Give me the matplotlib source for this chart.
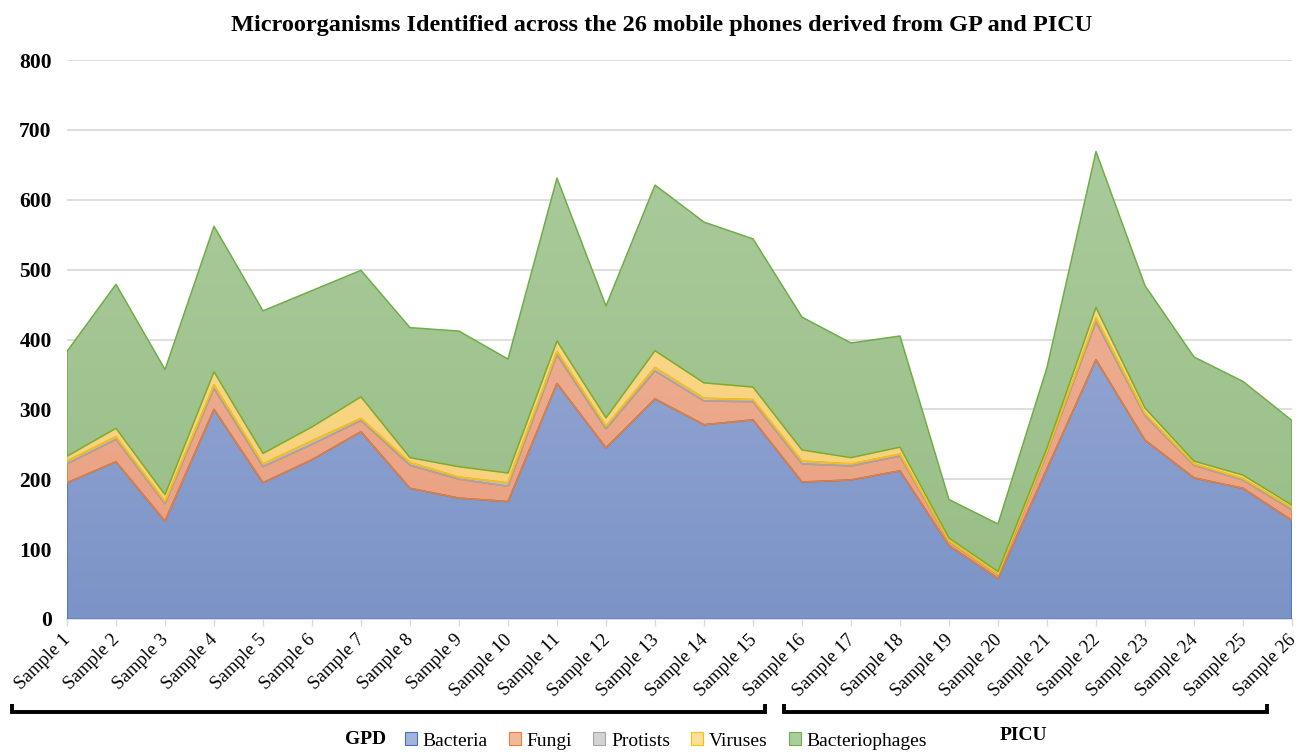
import numpy as np
import matplotlib
matplotlib.use("Agg")
import matplotlib.pyplot as plt
import matplotlib.transforms as mtransforms
from matplotlib.patches import Patch
from matplotlib.colors import LinearSegmentedColormap
from matplotlib.lines import Line2D

plt.rcParams['font.family'] = ['Liberation Serif', 'DejaVu Serif']

samples = [f"Sample {i}" for i in range(1, 27)]
series_names = ["Bacteria", "Fungi", "Protists", "Viruses", "Bacteriophages"]

bacteria = [195, 225, 140, 300, 195, 228, 268, 187, 173, 168, 337, 245, 315,
            278, 285, 196, 199, 212, 105, 58, 215, 371, 256, 202, 187, 141]
fungi = [27, 32, 25, 30, 23, 22, 16, 33, 27, 22, 41, 27, 40,
         34, 26, 26, 20, 21, 6, 5, 23, 54, 35, 18, 12, 15]
protists = [4, 4, 3, 5, 4, 5, 3, 4, 3, 5, 5, 4, 5,
            4, 3, 4, 3, 3, 1, 1, 2, 6, 3, 2, 2, 3]
viruses = [7, 12, 10, 19, 15, 20, 31, 7, 15, 14, 15, 12, 24,
           22, 18, 16, 9, 10, 4, 4, 5, 15, 8, 4, 5, 4]
bacteriophages = [150, 206, 179, 208, 204, 195, 181, 186, 194, 163, 233, 160, 237,
                  230, 212, 190, 164, 159, 55, 68, 115, 223, 175, 149, 134, 121]

series = [bacteria, fungi, protists, viruses, bacteriophages]
light = ["#a3b3db", "#f1b8a0", "#d3d3d3", "#fcdf9a", "#abcc9e"]
dark = ["#7b93c7", "#e89d7c", "#bcbcbc", "#f6cc70", "#97bd84"]
edges = ["#4472c4", "#ed7d31", "#a5a5a5", "#ffc000", "#70ad47"]

fig = plt.figure(figsize=(13, 7.52), dpi=100)
ax = fig.add_axes([67/1300, 1-619/752, (1292-67)/1300, (619-60)/752])

x = np.arange(len(samples))
ymax = 800
base = np.zeros(len(samples))
grad = np.linspace(0, 1, 256).reshape(-1, 1)
for vals, lc, dc, ec in zip(series, light, dark, edges):
    top = base + np.array(vals, dtype=float)
    coll = ax.fill_between(x, base, top, facecolor='none', edgecolor='none')
    cmap = LinearSegmentedColormap.from_list('g', [dc, lc])
    im = ax.imshow(grad, cmap=cmap, aspect='auto', origin='lower',
                   extent=[x[0], x[-1], 0, 720], zorder=2)
    im.set_clip_path(coll.get_paths()[0], transform=ax.transData)
    ax.fill_between(x, base, top, facecolor='none', edgecolor=ec,
                    linewidth=1.1, zorder=3)
    base = top

ax.set_xlim(0, len(samples) - 1)
ax.set_ylim(0, ymax)
ax.set_yticks(np.arange(0, 801, 100))
ax.yaxis.grid(True, color='#d9d9d9', linewidth=1.2, zorder=0)
ax.set_axisbelow(True)
for s in ['top', 'right', 'left']:
    ax.spines[s].set_visible(False)
ax.spines['bottom'].set_color('#d9d9d9')
ax.spines['bottom'].set_linewidth(1.2)
ax.tick_params(axis='y', length=0, pad=11)
ax.tick_params(axis='x', length=5, color='#d9d9d9', width=1.0, pad=4)
for lab in ax.get_yticklabels():
    lab.set_fontweight('bold')
    lab.set_fontsize(15.5)
ax.set_xticks(x)
ax.set_xticklabels(samples, rotation=45, ha='right', rotation_mode='anchor',
                   fontsize=13.5)
offset = mtransforms.ScaledTranslation(-5/100, 0, fig.dpi_scale_trans)
for lab in ax.get_xticklabels():
    lab.set_transform(lab.get_transform() + offset)

fig.text(662/1300, 1-26/752, "Microorganisms Identified across the 26 mobile phones derived from GP and PICU",
         ha='center', va='center', fontsize=17.5, fontweight='bold')

def bracket(x0, x1, y, h):
    X = [x0/1300, x0/1300, x1/1300, x1/1300]
    Y = [1-(y-h)/752, 1-y/752, 1-y/752, 1-(y-h)/752]
    fig.add_artist(Line2D(X, Y, color='black', linewidth=2.8,
                          solid_joinstyle='miter', solid_capstyle='butt'))

bracket(12, 765, 712, 8)
bracket(784, 1267, 712, 8)

fig.text(366/1300, 1-739/752, "GPD", ha='center', va='center',
         fontsize=14, fontweight='bold')
fig.text(1023/1300, 1-735/752, "PICU", ha='center', va='center',
         fontsize=14, fontweight='bold')

handles = [Patch(facecolor=l, edgecolor=e, linewidth=0.8) for l, e in zip(light, edges)]
fig.legend(handles, series_names, loc='center', bbox_to_anchor=(666/1300, 1-741/752),
           ncol=5, frameon=False, fontsize=14, handlelength=0.6, handleheight=0.6,
           handletextpad=0.3, columnspacing=1.1, borderpad=0)

fig.savefig("out.png", dpi=100)
